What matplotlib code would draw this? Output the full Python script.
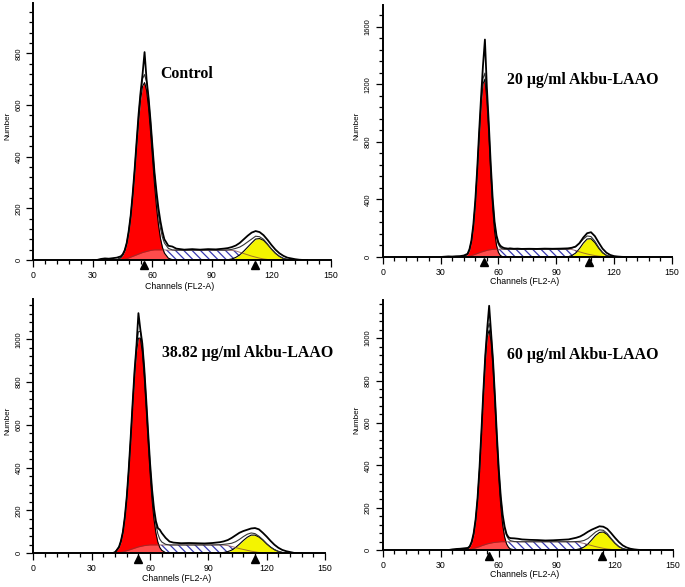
import numpy as np
import matplotlib
matplotlib.use("Agg")
import matplotlib.pyplot as plt
from matplotlib.ticker import MultipleLocator

plt.rcParams['font.family'] = ['Liberation Sans', 'DejaVu Sans']
plt.rcParams['hatch.linewidth'] = 0.9

# channel grid shared by all four histograms
channels = [30, 32, 34, 36, 38, 40, 42,
            44, 45, 46, 47, 48, 49, 50, 51, 52, 53, 54, 55, 56, 57, 58, 59, 60, 61, 62, 63, 64, 65, 66,
            68, 70, 72, 76, 80, 84, 88, 92, 96, 98,
            100, 102, 104, 106, 108, 110, 112, 114, 116, 118, 120, 122, 124, 126, 128, 130, 132, 134, 136, 138]

titles = ['Control', '20 µg/ml Akbu-LAAO', '38.82 µg/ml Akbu-LAAO', '60 µg/ml Akbu-LAAO']

# --- Control ---
data_ctrl = ([0, 0, 4, 6, 5, 7, 9] +
             [14, 22, 38, 66, 112, 172, 255, 352, 460, 565, 650, 720, 805, 700, 630, 540, 438, 340, 265, 200, 150, 110, 80] +
             [55, 52, 44, 40, 42, 40, 42, 41, 44, 46] +
             [50, 56, 66, 80, 94, 106, 112, 108, 96, 78, 58, 40, 26, 16, 9, 6, 3, 1, 0, 0])
g1_ctrl = ([0] * 7 +
           [9, 18, 34, 61, 102, 162, 240, 334, 438, 538, 621, 673, 687, 657, 591, 499, 396, 295, 207, 136, 84, 49, 27] +
           [7, 1] + [0] * 8 + [0] * 20)
s_ctrl = ([0] * 7 +
          [0, 1, 3, 5, 8, 11, 14, 17, 20, 23, 26, 29, 31, 33, 35, 37, 38, 39, 39, 39, 39, 39, 39] +
          [38] * 10 +
          [37, 35, 30, 25, 20, 15, 11, 7, 4, 2] + [0] * 10)
g2_ctrl = ([0] * 7 + [0] * 23 + [0] * 9 + [1] +
           [4, 10, 20, 34, 50, 66, 81, 83, 76, 60, 42, 26, 14, 6, 2, 0, 0, 0, 0, 0])

# --- 20 ug/ml ---
data_20 = ([0, 2, 4, 3, 5, 6, 10] +
           [22, 55, 115, 225, 390, 610, 870, 1110, 1330, 1510, 1180, 930, 650, 410, 245, 150, 100, 78, 68, 62, 60, 58, 60] +
           [57, 58, 56, 57, 56, 58, 57, 58, 60, 64] +
           [72, 96, 135, 165, 172, 145, 100, 58, 30, 14, 6, 3, 1, 0, 0, 0, 0, 0, 0, 0])
g1_20 = ([0, 0, 0, 0, 0, 0, 3] +
         [18, 46, 102, 203, 362, 577, 824, 1052, 1202, 1235, 1096, 860, 585, 347, 180, 81, 32, 11, 3, 0, 0, 0, 0] +
         [0] * 10 + [0] * 20)
s_20 = ([0] * 7 +
        [2, 5, 9, 14, 19, 24, 29, 34, 38, 42, 46, 49, 51, 53, 54, 54, 54, 54, 54, 54, 54, 54, 54] +
        [54, 54, 54, 54, 54, 54, 54, 54, 54, 52] +
        [45, 36, 28, 21, 15, 10, 6, 3, 1] + [0] * 11)
g2_20 = ([0] * 7 + [0] * 23 + [0] * 8 + [1, 10] +
         [27, 58, 96, 125, 127, 100, 61, 29, 11, 3, 1] + [0] * 9)

# --- 38.82 ug/ml ---
data_38 = ([0, 0, 0, 0, 0, 0, 4] +
           [30, 58, 100, 170, 265, 392, 540, 700, 852, 970, 1122, 1045, 980, 865, 720, 565, 420, 300, 210, 150, 118, 110, 95] +
           [72, 55, 50, 47, 48, 47, 46, 48, 52, 56] +
           [62, 72, 84, 96, 104, 110, 116, 118, 112, 96, 78, 58, 40, 26, 16, 10, 6, 2, 0, 0])
g1_38 = ([0, 0, 0, 0, 0, 0, 6] +
         [27, 52, 94, 159, 252, 375, 520, 677, 825, 941, 1005, 1005, 941, 825, 677, 520, 375, 252, 159, 94, 52, 27, 14] +
         [3] + [0] * 9 + [0] * 20)
s_38 = ([0] * 7 +
        [2, 4, 6, 9, 12, 15, 18, 21, 24, 27, 30, 32, 34, 36, 37, 38, 39, 39, 39, 39, 39, 39, 39] +
        [39, 39, 39, 39, 39, 39, 39, 39, 39, 38] +
        [36, 32, 27, 22, 18, 14, 10, 7, 4, 2, 1] + [0] * 9)
g2_38 = ([0] * 7 + [0] * 23 + [0] * 8 + [1, 4] +
         [8, 15, 27, 43, 60, 75, 85, 85, 76, 62, 44, 29, 17, 9, 4, 2, 0, 0, 0, 0])

# --- 60 ug/ml ---
data_60 = ([0, 0, 0, 3, 5, 6, 8] +
           [10, 18, 40, 80, 145, 245, 385, 560, 748, 918, 1045, 1153, 1025, 895, 725, 542, 378, 252, 165, 110, 75, 60, 56] +
           [55, 53, 50, 48, 47, 45, 46, 48, 50, 54] +
           [58, 64, 74, 86, 96, 104, 112, 110, 100, 80, 58, 38, 22, 12, 6, 3, 1, 0, 0, 0])
g1_60 = ([0] * 7 +
         [6, 15, 34, 70, 133, 230, 368, 538, 722, 889, 1004, 1039, 986, 858, 686, 502, 337, 208, 117, 61, 29, 13, 5] +
         [1] + [0] * 9 + [0] * 20)
s_60 = ([0] * 7 +
        [0, 2, 4, 7, 10, 13, 16, 20, 23, 26, 29, 31, 33, 35, 36, 37, 38, 39, 39, 39, 39, 39, 39] +
        [39] * 10 +
        [38, 35, 31, 26, 21, 16, 12, 8, 5, 3, 1] + [0] * 9)
g2_60 = ([0] * 7 + [0] * 23 + [0] * 10 +
         [2, 6, 14, 28, 48, 69, 83, 85, 73, 52, 32, 16, 7, 2, 1, 0, 0, 0, 0, 0])

# G1 / G2 peak positions (triangles under the axis)
g1_marks = [55.7, 52.7, 53.6, 54.9]
g2_marks = [111.7, 107.1, 114.0, 113.5]

y_tops = [995, 1750, 1190, 1180]
y_majors = [200, 400, 200, 200]

panels = [(data_ctrl, g1_ctrl, s_ctrl, g2_ctrl),
          (data_20, g1_20, s_20, g2_20),
          (data_38, g1_38, s_38, g2_38),
          (data_60, g1_60, s_60, g2_60)]

# layout (figure fractions) and text placement
boxes = [[0.0489, 0.5571, 0.4343, 0.4378],
         [0.5587, 0.5622, 0.4223, 0.4293],
         [0.0489, 0.0574, 0.4255, 0.4340],
         [0.5587, 0.0630, 0.4238, 0.4259]]
title_pos = [(0.425, 0.724), (0.429, 0.702), (0.442, 0.785), (0.427, 0.780)]
xlab_off = [26, 24, 25, 24]

W, H = 685, 587
fig = plt.figure(figsize=(W / 100, H / 100), dpi=100)

ch = np.array(channels, dtype=float)

for i in range(4):
    data, g1, sph, g2 = [np.array(a, dtype=float) for a in panels[i]]
    ax = fig.add_axes(boxes[i])
    wpx = boxes[i][2] * W
    hpx = boxes[i][3] * H

    # S-phase (hatched), then G1 and G2 on top
    ax.fill_between(ch, 0, sph, facecolor='white', edgecolor='#3838b0', hatch='\\\\\\\\', linewidth=0, zorder=1)
    ax.fill_between(ch, 0, g1, color='#ff0000', linewidth=0, zorder=2)
    ax.fill_between(ch, 0, np.minimum(sph, g1), color='white', alpha=0.3, linewidth=0, zorder=2.5)
    ax.fill_between(ch, 0, g2, color='#f4f400', linewidth=0, zorder=2)
    ax.plot(ch, g1, color='black', lw=0.8, zorder=3)
    ax.plot(ch, g2, color='black', lw=0.8, zorder=3)
    ax.plot(ch, sph, color='#7a3a3a', lw=0.7, alpha=0.7, zorder=3)

    fit = g1 + sph + g2
    ax.plot(ch, fit, color='#333333', lw=0.8, zorder=4)
    ax.plot(ch, data, color='black', lw=1.3, zorder=5)

    # peak markers under the axis
    ax.plot([g1_marks[i], g2_marks[i]], [-5.5 / hpx] * 2, marker='^', ls='none', color='black',
            markersize=5.5, transform=ax.get_xaxis_transform(), clip_on=False, zorder=6)

    ax.set_xlim(0, 150)
    ax.set_ylim(0, y_tops[i])
    ax.xaxis.set_major_locator(MultipleLocator(30))
    ax.xaxis.set_minor_locator(MultipleLocator(6))
    ax.yaxis.set_major_locator(MultipleLocator(y_majors[i]))
    ax.yaxis.set_minor_locator(MultipleLocator(y_majors[i] / 5))

    for side in ['top', 'right']:
        ax.spines[side].set_visible(False)
    for side in ['left', 'bottom']:
        ax.spines[side].set_linewidth(1.4)
        ax.spines[side].set_zorder(7)

    ax.tick_params(axis='x', which='major', length=5, width=0.9, labelsize=6.3, pad=3)
    ax.tick_params(axis='x', which='minor', length=3, width=0.9)
    ax.tick_params(axis='y', which='major', length=5, width=0.9, labelsize=5.5, pad=3, labelrotation=90)
    ax.tick_params(axis='y', which='minor', length=3, width=0.9)
    for lab in ax.get_yticklabels():
        lab.set_va('center')

    ax.set_xlabel('Channels (FL2-A)', fontsize=6.3)
    ax.xaxis.set_label_coords(0.49, -(xlab_off[i] - 4) / hpx)
    ax.set_ylabel('Number', fontsize=5.8)
    ax.yaxis.set_label_coords(-22.5 / wpx, 0.52)

    ax.text(title_pos[i][0], title_pos[i][1], titles[i], transform=ax.transAxes,
            family='Liberation Serif', fontweight='bold', fontsize=11.4, ha='left', va='center')

fig.savefig('out.png', dpi=100)
